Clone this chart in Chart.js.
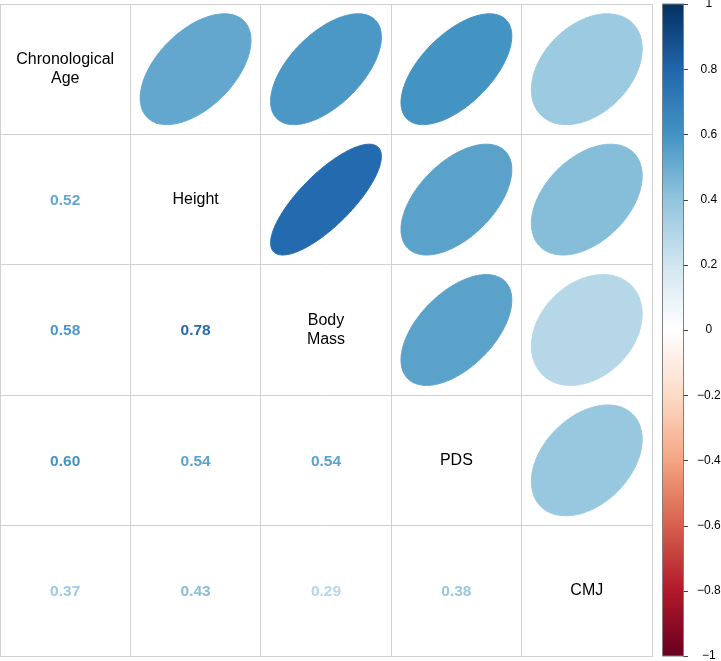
<!DOCTYPE html>
<html>
<head>
<meta charset="utf-8">
<script src="https://cdn.jsdelivr.net/npm/chart.js@4.4.1/dist/chart.umd.min.js"></script>
<style>
    html, body { margin: 0; padding: 0; background: #fff; }
    #wrap { width: 721px; height: 661px; }
</style>
</head>
<body>
<div id="wrap"><canvas id="corrChart" width="721" height="661"></canvas></div>
<script>
// Variable names (diagonal labels, one entry per line)
const variables = [['Chronological', 'Age'], ['Height'], ['Body', 'Mass'], ['PDS'], ['CMJ']];

// Lower triangle of the correlation matrix (row i, columns 0..i-1)
const corrLower = [
    [],
    [0.52],
    [0.58, 0.78],
    [0.60, 0.54, 0.54],
    [0.37, 0.43, 0.29, 0.38]
];

// Colour legend tick labels
const colorTicks = [1, 0.8, 0.6, 0.4, 0.2, 0, -0.2, -0.4, -0.6, -0.8, -1];

// RdBu palette stops from -1 to 1
const palette = ['#67001F', '#B2182B', '#D6604D', '#F4A582', '#FDDBC7', '#FFFFFF',
                 '#D1E5F0', '#92C5DE', '#4393C3', '#2166AC', '#053061'];

function hexToRgb(h) {
    return [parseInt(h.slice(1, 3), 16), parseInt(h.slice(3, 5), 16), parseInt(h.slice(5, 7), 16)];
}

function colorFor(r) {
    const pos = (r + 1) / 2 * (palette.length - 1);
    const i = Math.min(Math.floor(pos), palette.length - 2);
    const t = pos - i;
    const a = hexToRgb(palette[i]), b = hexToRgb(palette[i + 1]);
    const c = a.map((v, k) => Math.round(v + (b[k] - v) * t));
    return `rgb(${c[0]}, ${c[1]}, ${c[2]})`;
}

function corr(i, j) {
    return i > j ? corrLower[i][j] : corrLower[j][i];
}

// Ellipse outline for a correlation (same shape corrplot uses)
function ellipseOutline(r, cx, cy) {
    const d = Math.acos(r);
    const pts = [];
    for (let k = 0; k <= 120; k++) {
        const t = 2 * Math.PI * k / 120;
        pts.push({x: cx + 0.425 * Math.cos(t + d / 2), y: cy - 0.425 * Math.cos(t - d / 2)});
    }
    return pts;
}

const n = variables.length;
const datasets = [];
for (let i = 0; i < n; i++) {
    for (let j = i + 1; j < n; j++) {
        const r = corr(i, j);
        const col = colorFor(r);
        datasets.push({
            data: ellipseOutline(r, j + 0.5, i + 0.5),
            borderColor: col,
            backgroundColor: col,
            borderWidth: 1,
            pointRadius: 0,
            fill: 'shape',
            // non-zero tension keeps Chart.js off its x-sorted fast path
            tension: 0.2
        });
    }
}

const fontFamily = "'Liberation Sans', Arial, Helvetica, sans-serif";
const gridColor = '#d0d0d0';

// Draws diagonal names and lower triangle numbers
const cellTextPlugin = {
    id: 'cellText',
    afterDatasetsDraw(chart) {
        const ctx = chart.ctx;
        const xs = chart.scales.x, ys = chart.scales.y;
        ctx.save();
        ctx.textAlign = 'center';
        ctx.textBaseline = 'middle';
        for (let i = 0; i < n; i++) {
            const cy = ys.getPixelForValue(i + 0.5);
            // diagonal
            const lines = variables[i];
            const cx = xs.getPixelForValue(i + 0.5);
            ctx.fillStyle = '#000';
            ctx.font = '16px ' + fontFamily;
            const lh = 19;
            lines.forEach((ln, k) => {
                ctx.fillText(ln, cx, cy + (k - (lines.length - 1) / 2) * lh);
            });
            // numbers
            ctx.font = 'bold 15.5px ' + fontFamily;
            for (let j = 0; j < i; j++) {
                const r = corrLower[i][j];
                ctx.fillStyle = colorFor(r);
                ctx.fillText(r.toFixed(2), xs.getPixelForValue(j + 0.5), cy + 1);
            }
        }
        ctx.restore();
    }
};

// Draws the colour bar next to the legend axis
const colorBarPlugin = {
    id: 'colorBar',
    afterDraw(chart) {
        const ctx = chart.ctx;
        const yc = chart.scales.yc;
        const top = yc.getPixelForValue(1);
        const bottom = yc.getPixelForValue(-1);
        const left = chart.chartArea.right + 10.5;
        const width = 21;
        const grad = ctx.createLinearGradient(0, bottom, 0, top);
        palette.forEach((c, k) => grad.addColorStop(k / (palette.length - 1), c));
        ctx.save();
        ctx.fillStyle = grad;
        ctx.fillRect(left, top, width, bottom - top);
        ctx.strokeStyle = '#808080';
        ctx.lineWidth = 1;
        ctx.strokeRect(left, top, width, bottom - top);
        ctx.strokeStyle = '#444';
        colorTicks.forEach(v => {
            const y = Math.round(yc.getPixelForValue(v)) + 0.5;
            ctx.beginPath();
            ctx.moveTo(left + width, y);
            ctx.lineTo(left + width + 4.5, y);
            ctx.stroke();
        });
        ctx.restore();
    }
};

new Chart(document.getElementById('corrChart').getContext('2d'), {
    type: 'line',
    data: {datasets: datasets},
    options: {
        responsive: false,
        animation: false,
        layout: {padding: {left: 0, top: 4, right: 0, bottom: 5}},
        plugins: {
            legend: {display: false},
            tooltip: {enabled: false}
        },
        scales: {
            x: {
                type: 'linear',
                min: 0,
                max: n,
                ticks: {display: false, stepSize: 1},
                grid: {color: gridColor, drawTicks: false},
                border: {color: gridColor},
                afterFit(s) { s.height = 0; }
            },
            y: {
                type: 'linear',
                reverse: true,
                min: 0,
                max: n,
                ticks: {display: false, stepSize: 1},
                grid: {color: gridColor, drawTicks: false},
                border: {color: gridColor},
                afterFit(s) { s.width = 0; }
            },
            yc: {
                type: 'linear',
                position: 'right',
                min: -1,
                max: 1,
                afterBuildTicks(s) { s.ticks = colorTicks.map(v => ({value: v})); },
                afterFit(s) {
                    s.width = 69;
                    s.paddingTop = 0;
                    s.paddingBottom = 0;
                },
                ticks: {
                    color: '#000',
                    crossAlign: 'center',
                    padding: 0,
                    font: {family: fontFamily, size: 12},
                    callback(v) { return v < 0 ? '\u2212' + Math.abs(v) : String(v); }
                },
                grid: {drawOnChartArea: false, drawTicks: true, tickLength: 45, tickColor: 'rgba(0,0,0,0)'},
                border: {display: false}
            }
        }
    },
    plugins: [cellTextPlugin, colorBarPlugin]
});
</script>
</body>
</html>
